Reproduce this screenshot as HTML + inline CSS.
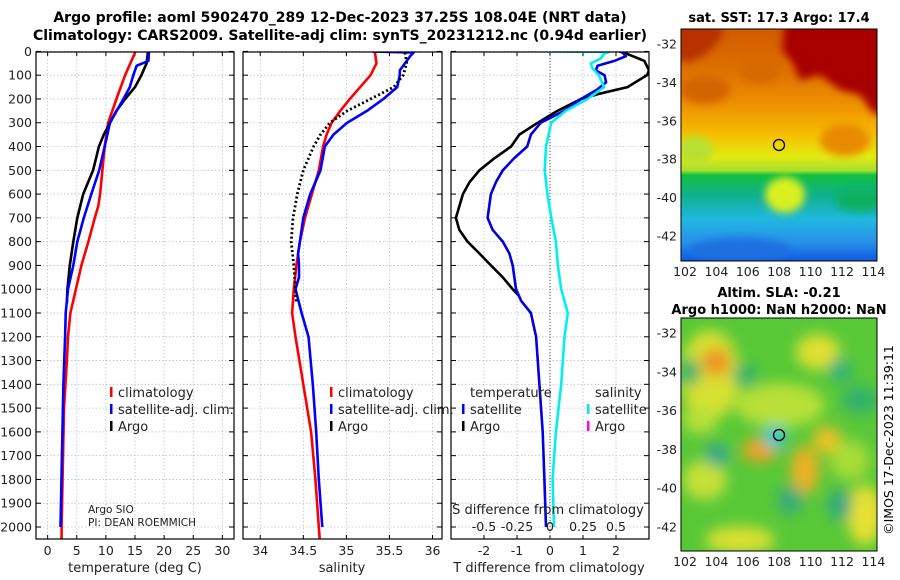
<!DOCTYPE html>
<html><head><meta charset="utf-8"><style>
html,body{margin:0;padding:0;background:#fff;}
svg{display:block;font-family:"DejaVu Sans","Liberation Sans",sans-serif;}
</style></head><body>
<svg id="fig" width="900" height="580" viewBox="0 0 900 580" xmlns="http://www.w3.org/2000/svg">
<defs>
<filter id="blur4" x="-20%" y="-20%" width="140%" height="140%"><feGaussianBlur stdDeviation="4"/></filter>
<filter id="blur7" x="-30%" y="-30%" width="160%" height="160%"><feGaussianBlur stdDeviation="7"/></filter>
<linearGradient id="sstGrad" x1="0" y1="0" x2="0" y2="1">
<stop offset="0" stop-color="#d05a00"/><stop offset="0.2" stop-color="#e07400"/>
<stop offset="0.35" stop-color="#f09800"/><stop offset="0.45" stop-color="#f6bc00"/>
<stop offset="0.55" stop-color="#e4ea10"/><stop offset="0.61" stop-color="#a8e030"/>
<stop offset="0.63" stop-color="#10c040"/><stop offset="0.72" stop-color="#10b090"/>
<stop offset="0.82" stop-color="#20b8e0"/><stop offset="0.92" stop-color="#2890e8"/>
<stop offset="1" stop-color="#1058e0"/></linearGradient>
<clipPath id="clipMap1"><rect x="681" y="29" width="196" height="232"/></clipPath>
<clipPath id="clipMap2"><rect x="681" y="318" width="196" height="233"/></clipPath>
<clipPath id="clipP1"><rect x="36" y="52" width="198" height="487"/></clipPath>
<clipPath id="clipP2"><rect x="243" y="52" width="199" height="487"/></clipPath>
<clipPath id="clipP3"><rect x="451" y="52" width="198" height="487"/></clipPath>
</defs>

<text x="340" y="22" font-size="14" font-weight="bold" text-anchor="middle">Argo profile: aoml 5902470_289 12-Dec-2023 37.25S 108.04E (NRT data)</text>
<text x="340" y="40" font-size="14" font-weight="bold" text-anchor="middle">Climatology: CARS2009. Satellite-adj clim: synTS_20231212.nc (0.94d earlier)</text>

<g id="panels"></g>

<!-- SST map -->
<g clip-path="url(#clipMap1)">
<rect x="681" y="29" width="196" height="232" fill="url(#sstGrad)"/>
<g filter="url(#blur4)">
<path d="M785,20 L890,20 L890,118 L872,112 L860,95 L840,90 L820,75 L800,80 L792,62 L782,50 Z" fill="#a80000"/>
<path d="M675,20 L725,20 L720,40 L705,55 L690,62 L675,60 Z" fill="#b83000"/>
<ellipse cx="705" cy="90" rx="25" ry="14" fill="#d46400"/>
<ellipse cx="760" cy="70" rx="20" ry="14" fill="#d86800"/>
<ellipse cx="845" cy="140" rx="25" ry="16" fill="#e88a00"/>
<ellipse cx="785" cy="195" rx="20" ry="18" fill="#d8f020"/>
<ellipse cx="695" cy="150" rx="18" ry="14" fill="#b8e030"/>
<ellipse cx="860" cy="200" rx="25" ry="12" fill="#10b060"/>
<ellipse cx="740" cy="250" rx="50" ry="12" fill="#1a70e0"/>
</g>
<circle cx="779" cy="145" r="5.5" fill="none" stroke="#000" stroke-width="1.3"/>
</g>
<rect x="681" y="29" width="196" height="232" fill="none" stroke="#000" stroke-width="1"/>
<text x="779" y="22" font-size="13" font-weight="bold" text-anchor="middle">sat. SST: 17.3 Argo: 17.4</text>

<!-- SLA map -->
<g clip-path="url(#clipMap2)">
<rect x="681" y="318" width="196" height="233" fill="#58c838"/>
<g filter="url(#blur7)">
<ellipse cx="710" cy="375" rx="30" ry="45" fill="#d8e030"/>
<ellipse cx="716" cy="362" rx="14" ry="14" fill="#f09020"/>
<ellipse cx="780" cy="405" rx="45" ry="22" fill="#b8e038"/>
<ellipse cx="700" cy="420" rx="18" ry="14" fill="#b8e038"/>
<ellipse cx="760" cy="450" rx="18" ry="12" fill="#f0a020"/>
<ellipse cx="805" cy="470" rx="14" ry="24" fill="#f0b020"/>
<ellipse cx="827" cy="440" rx="14" ry="14" fill="#f0c020"/>
<ellipse cx="818" cy="352" rx="22" ry="18" fill="#e0e030"/>
<ellipse cx="865" cy="515" rx="18" ry="30" fill="#e8e030"/>
<ellipse cx="740" cy="540" rx="35" ry="14" fill="#d8e030"/>
<ellipse cx="705" cy="480" rx="22" ry="20" fill="#c8e038"/>
<ellipse cx="850" cy="460" rx="20" ry="20" fill="#a8dc38"/>
<ellipse cx="860" cy="400" rx="18" ry="14" fill="#30b070"/>
<ellipse cx="840" cy="370" rx="12" ry="12" fill="#30b080"/>
<ellipse cx="745" cy="375" rx="12" ry="12" fill="#30b070"/>
<ellipse cx="690" cy="372" rx="10" ry="14" fill="#30b070"/>
<ellipse cx="717" cy="455" rx="12" ry="12" fill="#30a890"/>
<ellipse cx="775" cy="437" rx="12" ry="12" fill="#20c8d0"/>
<ellipse cx="790" cy="500" rx="12" ry="14" fill="#30a880"/>
<ellipse cx="840" cy="505" rx="12" ry="16" fill="#30a880"/>
</g>
<circle cx="779" cy="435" r="5.5" fill="none" stroke="#000" stroke-width="1.3"/>
</g>
<rect x="681" y="318" width="196" height="233" fill="none" stroke="#000" stroke-width="1"/>
<text x="779" y="297" font-size="13" font-weight="bold" text-anchor="middle">Altim. SLA: -0.21</text>
<text x="779" y="314" font-size="13" font-weight="bold" text-anchor="middle">Argo h1000: NaN h2000: NaN</text>
<text x="0" y="0" font-size="12.5" text-anchor="middle" transform="translate(893,440) rotate(-90)">©IMOS 17-Dec-2023 11:39:11</text>
<g id="mapaxes"></g>

<script>
// ---------------- data ----------------
const depthTClim = [0,100,200,300,400,500,600,650,700,800,900,1000,1100,1200,1300,1500,2000,2050];
const tempClim   = [15.1,13.3,11.8,10.4,9.8,9.4,9.0,8.7,8.1,7.0,5.8,4.85,3.9,3.5,3.3,2.8,2.4,2.4];
const depthTSat  = [0,40,60,100,150,200,300,400,500,600,700,800,900,1000,1100,1200,1400,2000];
const tempSat    = [17.4,17.3,15.3,14.7,14.1,13.0,10.7,9.8,8.85,7.5,6.2,5.1,4.4,3.5,3.1,3.0,2.7,2.2];
const depthArgo  = [5,50,100,150,200,250,300,350,400,500,600,700,800,900,1000,1060];
const tempArgo   = [17.2,17.0,16.1,15.0,13.3,11.8,10.7,9.65,8.8,7.8,6.1,5.1,4.4,3.8,3.4,3.3];

const depthSClim = [0,50,100,200,250,300,350,400,500,600,700,800,900,1000,1100,1200,1400,1600,1800,2000,2050];
const salClim    = [35.33,35.35,35.28,35.04,34.93,34.83,34.77,34.73,34.68,34.60,34.52,34.46,34.42,34.39,34.37,34.41,34.50,34.59,34.64,34.68,34.69];
const depthSSat  = [0,5,20,50,80,100,150,200,250,300,350,400,500,600,700,800,850,900,950,1000,1100,1200,1400,1600,1800,2000];
const salSat     = [35.30,35.78,35.74,35.68,35.62,35.62,35.59,35.43,35.24,35.01,34.85,34.75,34.70,34.58,34.50,34.46,34.44,34.45,34.45,34.41,34.48,34.56,34.61,34.65,34.68,34.72];
const salArgo    = [35.68,35.70,35.66,35.55,35.28,35.01,34.81,34.70,34.62,34.50,34.43,34.38,34.36,34.39,34.41,34.42];

const depthDTArgo = [0,40,80,100,150,180,200,250,300,350,400,450,500,550,600,700,750,800,850,900,950,1000,1030];
const dTArgo      = [2.15,2.86,3.0,2.94,2.35,1.44,0.94,0.23,-0.37,-0.93,-1.18,-1.69,-2.14,-2.44,-2.64,-2.85,-2.75,-2.5,-2.14,-1.79,-1.43,-1.13,-0.93];
const depthDTSat  = [0,5,20,40,60,80,100,130,160,200,250,300,350,400,450,500,550,600,700,750,800,850,900,1000,1050,1100,1200,1400,1600,1800,2000];
const dTSat       = [2.1,2.2,2.3,1.95,1.44,1.39,1.65,1.7,1.44,0.94,0.43,-0.28,-0.58,-0.69,-1.09,-1.43,-1.64,-1.79,-1.89,-1.74,-1.43,-1.23,-1.13,-1.03,-0.87,-0.58,-0.42,-0.32,-0.22,-0.17,-0.12];
const depthDSSat  = [0,2,10,30,50,70,100,150,200,250,300,400,500,600,700,800,900,1000,1100,1200,1400,1600,1800,2000];
const dSSat       = [-0.02,0.45,0.41,0.385,0.31,0.32,0.37,0.41,0.285,0.12,0.01,-0.03,-0.04,-0.02,0.01,0.045,0.06,0.085,0.135,0.11,0.085,0.045,0.02,0.03];

const depthTicks = [0,100,200,300,400,500,600,700,800,900,1000,1100,1200,1300,1400,1500,1600,1700,1800,1900,2000];
const tTicks = [0,5,10,15,20,25,30];
const sTicks = [34,34.5,35,35.5,36];
const sTickLabels = ["34","34.5","35","35.5","36"];
const dtTicks = [-2,-1,0,1,2];
const dsTicks = [-0.5,-0.25,0,0.25,0.5];
const dsTickLabels = ["-0.5","-0.25","0","0.25","0.5"];
const lonTicks = [102,104,106,108,110,112,114];
const latTicks = [-32,-34,-36,-38,-40,-42];

// ---------------- helpers ----------------
const NS = "http://www.w3.org/2000/svg";
const root = document.getElementById('panels');
function mk(tag, attrs, parent) {
  const e = document.createElementNS(NS, tag);
  for (const k in attrs) e.setAttribute(k, attrs[k]);
  (parent || root).appendChild(e);
  return e;
}
const Y0 = 51.4, KY = 0.2378, YB = 539;
const yD = d => Y0 + d * KY;
function xScale(x0, x1, vmin, vmax) { return v => x0 + (v - vmin) / (vmax - vmin) * (x1 - x0); }

const P = [
  {x0:36, x1:234, sx: xScale(36,234,-2,32), clip:'url(#clipP1)', name:'temperature-panel'},
  {x0:243, x1:442, sx: xScale(243,442,33.8,36.11), clip:'url(#clipP2)', name:'salinity-panel'},
  {x0:451, x1:649, sx: xScale(451,649,-3,3), clip:'url(#clipP3)', name:'difference-panel'}
];
const sxS = xScale(451,649,-0.75,0.75);
const gridTicks = [tTicks, sTicks, dtTicks];

P.forEach((p, i) => {
  const g = mk('g', {});
  
  
  p.g = g;
  depthTicks.forEach(d => {
    const l = mk('line', {x1:p.x0, x2:p.x1, y1:yD(d), y2:yD(d), stroke:'#b8bedc', 'stroke-width':0.8, 'stroke-dasharray':'1.5,2'}, g);
    
    
    mk('line', {x1:p.x0, x2:p.x0+5, y1:yD(d), y2:yD(d), stroke:'#000', 'stroke-width':1}, g);
    mk('line', {x1:p.x1-5, x2:p.x1, y1:yD(d), y2:yD(d), stroke:'#000', 'stroke-width':1}, g);
  });
  gridTicks[i].forEach(v => {
    const x = p.sx(v);
    const l = mk('line', {x1:x, x2:x, y1:52, y2:YB, stroke:'#b8bedc', 'stroke-width':0.8, 'stroke-dasharray':'1.5,2'}, g);
    
    
    mk('line', {x1:x, x2:x, y1:YB-4, y2:YB, stroke:'#000'}, g);
    mk('line', {x1:x, x2:x, y1:52, y2:56, stroke:'#000'}, g);
  });
});

function line(g, sx, vals, depths, color, name, extra) {
  const pts = vals.map((v, k) => sx(v).toFixed(1) + ',' + yD(depths[k]).toFixed(1)).join(' ');
  const e = mk('polyline', Object.assign({points:pts, fill:'none', stroke:color, 'stroke-width':2.6, 'stroke-linejoin':'round'}, extra || {}), g);
  
  
  return e;
}
const c1 = mk('g', {'clip-path':P[0].clip}, P[0].g);
line(c1, P[0].sx, tempClim, depthTClim, '#ff0000', 'temp-climatology-line');
line(c1, P[0].sx, tempArgo, depthArgo, '#000000', 'temp-argo-line');
line(c1, P[0].sx, tempSat, depthTSat, '#0000ff', 'temp-satellite-line');
const c2 = mk('g', {'clip-path':P[1].clip}, P[1].g);
line(c2, P[1].sx, salClim, depthSClim, '#ff0000', 'sal-climatology-line');
line(c2, P[1].sx, salSat, depthSSat, '#0000ff', 'sal-satellite-line');
line(c2, P[1].sx, salArgo, depthArgo, '#000000', 'sal-argo-line', {'stroke-dasharray':'2,2.5', 'stroke-width':2.8});
const c3 = mk('g', {'clip-path':P[2].clip}, P[2].g);
const zl = mk('line', {x1:P[2].sx(0), x2:P[2].sx(0), y1:52, y2:YB, stroke:'#555', 'stroke-width':1, 'stroke-dasharray':'1,2'}, c3);


line(c3, P[2].sx, dTArgo, depthDTArgo, '#000000', 'dT-argo-line');
line(c3, P[2].sx, dTSat, depthDTSat, '#0000e0', 'dT-satellite-line');
line(c3, sxS, dSSat, depthDSSat, '#00f0f0', 'dS-satellite-line');

P.forEach(p => {
  const r = mk('rect', {x:p.x0, y:52, width:p.x1-p.x0, height:YB-52, fill:'none', stroke:'#000', 'stroke-width':1.2}, p.g);
  
  
});

function txt(s, x, y, size, anchor, name, extra) {
  const t = mk('text', Object.assign({x:x, y:y, 'font-size':size, 'text-anchor':anchor || 'start', fill:'#222'}, extra || {}));
  t.textContent = s;
  
  
  return t;
}
depthTicks.forEach(d => txt(String(d), 32, yD(d) + 4.5, 12.5, 'end', 'depth-tick-label'));
tTicks.forEach(v => txt(String(v), P[0].sx(v), 555, 12.5, 'middle', 'temp-tick-label'));
sTicks.forEach((v, k) => txt(sTickLabels[k], P[1].sx(v), 555, 12.5, 'middle', 'sal-tick-label'));
dtTicks.forEach(v => txt(String(v), P[2].sx(v), 555, 12.5, 'middle', 'dT-tick-label'));
dsTicks.forEach((v, k) => txt(dsTickLabels[k], sxS(v), 531, 12.5, 'middle', 'dS-tick-label'));
txt('temperature (deg C)', 135, 572, 13, 'middle', 'temp-axis-title');
txt('salinity', 342, 572, 13, 'middle', 'sal-axis-title');
txt('T difference from climatology', 549, 572, 13, 'middle', 'dT-axis-title');
txt('S difference from climatology', 548, 514, 13, 'middle', 'dS-axis-title');
txt('Argo SIO', 88, 513, 10.5, 'start', 'data-source-label');
txt('PI: DEAN ROEMMICH', 88, 526, 10.5, 'start', 'pi-label');

function legendEntry(mx, tx, y, color, label, name) {
  const m = mk('rect', {x:mx, y:y-10, width:2.5, height:10, fill:color});
  
  
  txt(label, tx, y, 13, 'start', name + '-label');
}
[[110,118],[330,338]].forEach(([mx, tx], k) => {
  legendEntry(mx, tx, 397, '#ff0000', 'climatology', 'legend-climatology');
  legendEntry(mx, tx, 414, '#0000ff', 'satellite-adj. clim.', 'legend-satellite');
  legendEntry(mx, tx, 431, '#000000', 'Argo', 'legend-argo');
});
txt('temperature', 470, 397, 13, 'start', 'legend-temperature-header');
txt('salinity', 595, 397, 13, 'start', 'legend-salinity-header');
legendEntry(462, 470, 414, '#0000ff', 'satellite', 'legend-dT-satellite');
legendEntry(462, 470, 431, '#000000', 'Argo', 'legend-dT-argo');
legendEntry(587, 595, 414, '#00e8e8', 'satellite', 'legend-dS-satellite');
legendEntry(587, 595, 431, '#ff00ff', 'Argo', 'legend-dS-argo');

const lonX = lon => 685 + (lon - 102) * 15.7;
[[29,261,44,19.2,276],[318,551,333,19.4,566]].forEach(([ytop, ybot, y32, ky, ylab], m) => {
  lonTicks.forEach(lon => {
    const x = lonX(lon);
    mk('line', {x1:x, x2:x, y1:ybot, y2:ybot-4, stroke:'#000'});
    mk('line', {x1:x, x2:x, y1:ytop, y2:ytop+4, stroke:'#000'});
    txt(String(lon), x, ylab, 12.5, 'middle', 'lon-tick-label');
  });
  latTicks.forEach(lat => {
    const y = y32 + (-32 - lat) * ky;
    mk('line', {x1:681, x2:685, y1:y, y2:y, stroke:'#000'});
    mk('line', {x1:873, x2:877, y1:y, y2:y, stroke:'#000'});
    txt(String(lat), 677, y + 4.5, 12.5, 'end', 'lat-tick-label');
  });
});
</script>
</svg>
</body></html>
